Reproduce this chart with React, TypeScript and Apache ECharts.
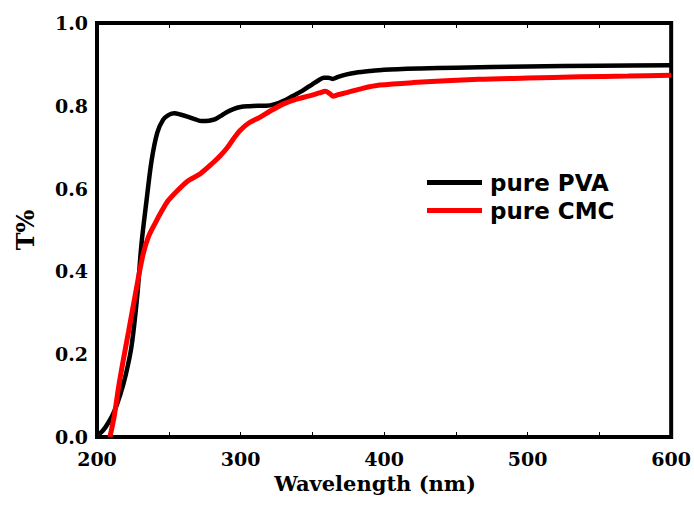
import React, { useEffect, useRef } from "react";
import * as echarts from "echarts";

const seriesNames = ["pure PVA", "pure CMC"];
const seriesColors = ["#000000", "#ff0000"];

const pvaWavelength = [200, 204, 208, 212, 216, 220, 224, 228, 231, 234.5, 238, 242, 246, 250, 254, 258, 263, 268, 273, 278, 282, 286, 290, 295, 300, 306, 312, 318, 324, 330, 336, 343, 350, 355, 358, 361, 364, 368, 374, 380, 390, 400, 425, 450, 500, 550, 600];
const pvaT = [0.003, 0.015, 0.035, 0.062, 0.1, 0.15, 0.218, 0.34, 0.467, 0.571, 0.667, 0.735, 0.766, 0.778, 0.782, 0.779, 0.774, 0.768, 0.763, 0.764, 0.767, 0.775, 0.784, 0.792, 0.797, 0.799, 0.8, 0.8, 0.804, 0.812, 0.823, 0.836, 0.852, 0.863, 0.868, 0.868, 0.865, 0.87, 0.876, 0.88, 0.884, 0.887, 0.89, 0.892, 0.895, 0.897, 0.898];

const cmcWavelength = [209, 212, 215, 218, 222, 227, 232, 236, 240.3, 245, 249.6, 256, 263.5, 272, 281, 286, 291, 295, 299.5, 306, 313.4, 321, 329.6, 338, 348, 355, 359, 362, 364.4, 368, 374, 385, 397, 420, 466, 500, 536, 570, 600];
const cmcT = [0.0, 0.05, 0.12, 0.18, 0.255, 0.35, 0.44, 0.485, 0.515, 0.545, 0.571, 0.595, 0.619, 0.636, 0.663, 0.68, 0.7, 0.72, 0.74, 0.759, 0.772, 0.788, 0.804, 0.815, 0.824, 0.831, 0.835, 0.83, 0.823, 0.827, 0.832, 0.842, 0.85, 0.856, 0.864, 0.867, 0.87, 0.872, 0.874];

const xMin = 200;
const xMax = 600;
const xTickStep = 50;
const xLabelStep = 100;
const yMin = 0;
const yMax = 1;
const yTickStep = 0.2;

const xTitle = "Wavelength (nm)";
const yTitle = "T%";

const zip = (xs: number[], ys: number[]) => xs.map((x, i) => [x, ys[i]]);

export default function App() {
  const ref = useRef<HTMLDivElement>(null);
  useEffect(() => {
    if (!ref.current) return;
    const chart = echarts.init(ref.current, undefined, { renderer: "svg" });
    const serif = "DejaVu Serif";
    const tickLabel = {
      fontFamily: serif,
      fontWeight: "bold" as const,
      fontSize: 19,
      color: "#000",
    };
    chart.setOption({
      animation: false,
      backgroundColor: "#ffffff",
      grid: {
        left: 97,
        right: 22,
        top: 23,
        bottom: 69,
        show: true,
        borderColor: "#000",
        borderWidth: 4,
        backgroundColor: "transparent",
      },
      legend: {
        orient: "vertical",
        left: 422,
        top: 166,
        itemWidth: 55,
        itemHeight: 5,
        itemGap: 5,
        data: seriesNames.map((n) => ({ name: n, icon: "rect" })),
        textStyle: {
          fontFamily: "DejaVu Sans",
          fontWeight: "bold",
          fontSize: 23,
          color: "#000",
          padding: [0, 0, 0, 3],
        },
      },
      xAxis: [
        {
          type: "value",
          min: xMin,
          max: xMax,
          interval: xTickStep,
          position: "bottom",
          axisLine: { show: false },
          axisTick: { show: true, inside: true, length: 5, lineStyle: { color: "#000", width: 1 } },
          splitLine: { show: false },
          axisLabel: {
            ...tickLabel,
            margin: 12,
            formatter: (v: number) => (v % xLabelStep === 0 ? String(v) : ""),
          },
          name: xTitle,
          nameLocation: "middle",
          nameGap: 32,
          nameTextStyle: {
            fontFamily: serif,
            fontWeight: "bold",
            fontSize: 21,
            color: "#000",
            padding: [0, 18, 0, 0],
          },
        },
        {
          type: "value",
          min: xMin,
          max: xMax,
          interval: xTickStep,
          position: "top",
          axisLine: { show: false },
          axisTick: { show: true, inside: true, length: 5, lineStyle: { color: "#000", width: 1 } },
          splitLine: { show: false },
          axisLabel: { show: false },
        },
      ],
      yAxis: {
        type: "value",
        min: yMin,
        max: yMax,
        interval: yTickStep,
        axisLine: { show: false },
        axisTick: { show: false },
        splitLine: { show: false },
        axisLabel: {
          ...tickLabel,
          margin: 9,
          formatter: (v: number) => v.toFixed(1),
        },
        name: yTitle,
        nameLocation: "middle",
        nameGap: 60,
        nameRotate: 90,
        nameTextStyle: {
          fontFamily: serif,
          fontWeight: "bold",
          fontSize: 24,
          color: "#000",
        },
      },
      series: [
        {
          name: seriesNames[0],
          type: "line",
          xAxisIndex: 0,
          data: zip(pvaWavelength, pvaT),
          symbol: "none",
          smooth: 0.3,
          lineStyle: { color: seriesColors[0], width: 4.5 },
          itemStyle: { color: seriesColors[0] },
        },
        {
          name: seriesNames[1],
          type: "line",
          xAxisIndex: 0,
          data: zip(cmcWavelength, cmcT),
          symbol: "none",
          smooth: 0.3,
          lineStyle: { color: seriesColors[1], width: 5 },
          itemStyle: { color: seriesColors[1] },
        },
      ],
    });
    return () => chart.dispose();
  }, []);
  return (
    <div
      ref={ref}
      style={{ position: "absolute", left: 0, top: 0, width: 694, height: 506 }}
    />
  );
}
